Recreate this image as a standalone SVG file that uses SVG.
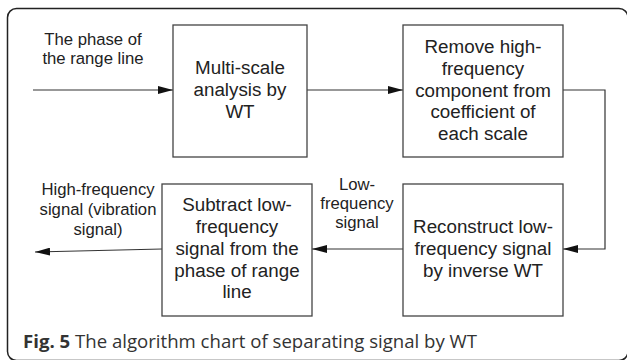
<svg xmlns="http://www.w3.org/2000/svg" width="627" height="360" viewBox="0 0 627 360">
<style>
.box{fill:#fff;stroke:#444;stroke-width:1.3}
.t{font-family:"Liberation Sans",Arial,sans-serif;font-size:18.8px;fill:#222;text-anchor:middle}
.l{font-family:"Liberation Sans",Arial,sans-serif;font-size:16.7px;fill:#222;text-anchor:middle}
.c{fill:none;stroke:#333;stroke-width:1.2}
.cap{font-family:"Open Sans",sans-serif;font-size:18.6px;fill:#333}
</style>
<defs>
<marker id="ah" markerWidth="15" markerHeight="8" refX="15" refY="4" orient="auto" markerUnits="userSpaceOnUse">
<path d="M0,0 L15,4 L0,8 Z" fill="#111"/>
</marker>
</defs>
<rect x="7.5" y="8.5" width="620.5" height="352" rx="9" fill="#fff" stroke="#222" stroke-width="1.5"/>
<g id="connectors">
<path class="c" d="M33,90 L173,90" marker-end="url(#ah)"/>
<path class="c" d="M307,90 L403,90" marker-end="url(#ah)"/>
<path class="c" d="M563,90 L605,90 L605,249 L563,249" marker-end="url(#ah)"/>
<path class="c" d="M403,249 L312,249" marker-end="url(#ah)"/>
<path class="c" d="M162,249 L35,252" marker-end="url(#ah)"/>
</g>
<g id="label-input">
<text class="l" x="93" y="45">The phase of</text>
<text class="l" x="93" y="64">the range line</text>
</g>
<g id="node-multiscale">
<rect class="box" x="173" y="25" width="134" height="132"/>
<text class="t" x="240" y="74">Multi-scale</text>
<text class="t" x="240" y="96">analysis by</text>
<text class="t" x="240" y="118">WT</text>
</g>
<g id="node-remove">
<rect class="box" x="403" y="25" width="160" height="132"/>
<text class="t" x="483" y="53">Remove high-</text>
<text class="t" x="483" y="75">frequency</text>
<text class="t" x="483" y="97">component from</text>
<text class="t" x="483" y="118">coefficient of</text>
<text class="t" x="483" y="140">each scale</text>
</g>
<g id="node-reconstruct">
<rect class="box" x="403" y="184" width="160" height="132"/>
<text class="t" x="483" y="233">Reconstruct low-</text>
<text class="t" x="483" y="255">frequency signal</text>
<text class="t" x="483" y="277">by inverse WT</text>
</g>
<g id="node-subtract">
<rect class="box" x="162" y="184" width="150" height="132"/>
<text class="t" x="237" y="211">Subtract low-</text>
<text class="t" x="237" y="233">frequency</text>
<text class="t" x="237" y="255">signal from the</text>
<text class="t" x="237" y="277">phase of range</text>
<text class="t" x="237" y="298">line</text>
</g>
<g id="label-low">
<text class="l" x="357" y="190">Low-</text>
<text class="l" x="357" y="209">frequency</text>
<text class="l" x="357" y="228">signal</text>
</g>
<g id="label-high">
<text class="l" x="98" y="195">High-frequency</text>
<text class="l" x="98" y="215">signal (vibration</text>
<text class="l" x="98" y="235">signal)</text>
</g>
<text class="cap" x="23" y="348"><tspan font-weight="bold">Fig. 5</tspan> The algorithm chart of separating signal by WT</text>
</svg>
